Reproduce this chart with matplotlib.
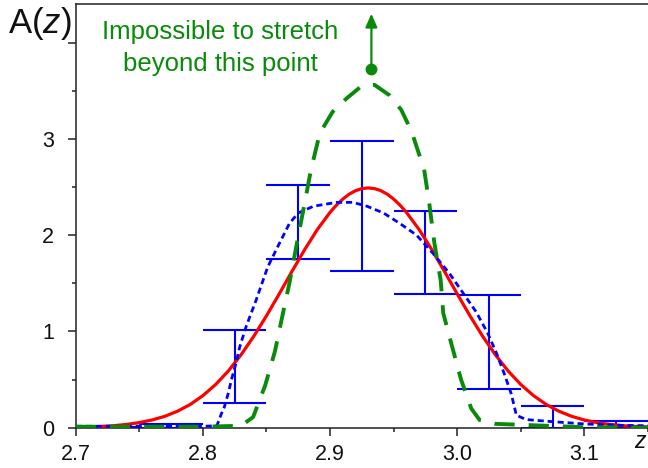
import matplotlib
matplotlib.use("Agg")
import matplotlib.pyplot as plt
from matplotlib.ticker import MultipleLocator, FixedLocator, FixedFormatter

plt.rcParams['font.family'] = ['Liberation Sans', 'DejaVu Sans']
plt.rcParams['mathtext.fontset'] = 'custom'
plt.rcParams['mathtext.rm'] = 'Liberation Sans'
plt.rcParams['mathtext.it'] = 'Liberation Sans:italic'

# ---- data ----
# binned measurements (error bars), bin width 0.05
bin_centers = [2.725, 2.775, 2.825, 2.875, 2.925, 2.975, 3.025, 3.075, 3.125]
bin_low = [0.0, 0.0, 0.26, 1.75, 1.63, 1.385, 0.405, 0.0, 0.0]
bin_high = [0.006, 0.035, 1.015, 2.52, 2.974, 2.25, 1.375, 0.222, 0.073]
bin_width = 0.05

# red smooth curve
red_z = [2.70, 2.71, 2.72, 2.73, 2.74, 2.75, 2.76, 2.77, 2.78, 2.79, 2.80,
         2.81, 2.82, 2.83, 2.84, 2.85, 2.86, 2.87, 2.88, 2.89, 2.90, 2.905,
         2.91, 2.915, 2.92, 2.925, 2.93, 2.935, 2.94, 2.945, 2.95, 2.955,
         2.96, 2.97, 2.98, 2.99, 3.00, 3.01, 3.02, 3.03, 3.04, 3.05, 3.06,
         3.07, 3.08, 3.09, 3.10, 3.11, 3.12, 3.13, 3.14, 3.15]
red_a = [0.005, 0.008, 0.013, 0.021, 0.034, 0.053, 0.080, 0.118, 0.171, 0.241, 0.333,
         0.448, 0.589, 0.757, 0.949, 1.162, 1.389, 1.622, 1.849, 2.058, 2.237, 2.311,
         2.374, 2.425, 2.461, 2.483, 2.490, 2.483, 2.461, 2.425, 2.374, 2.311,
         2.237, 2.058, 1.849, 1.622, 1.389, 1.162, 0.949, 0.757, 0.589, 0.448, 0.333,
         0.241, 0.171, 0.118, 0.080, 0.053, 0.034, 0.021, 0.013, 0.008]

# blue dotted curve
blue_z = [2.70, 2.75, 2.80, 2.811, 2.8147, 2.817, 2.820, 2.8225, 2.826, 2.829,
          2.834, 2.838, 2.842, 2.851, 2.860, 2.868, 2.875, 2.887, 2.905, 2.918,
          2.929, 2.942, 2.955, 2.968, 2.981, 2.994, 3.0045, 3.015, 3.024, 3.031,
          3.037, 3.0425, 3.0465, 3.054, 3.0725, 3.101, 3.128, 3.15]
blue_a = [0.015, 0.015, 0.015, 0.02, 0.15, 0.22, 0.36, 0.50, 0.67, 0.84,
          1.05, 1.19, 1.33, 1.67, 1.91, 2.12, 2.23, 2.30, 2.34, 2.34,
          2.30, 2.23, 2.12, 2.00, 1.81, 1.60, 1.40, 1.20, 0.98, 0.77,
          0.56, 0.35, 0.13, 0.085, 0.065, 0.038, 0.025, 0.02]

# green dashed curve
green_z = [2.70, 2.76, 2.80, 2.83, 2.8395, 2.849, 2.8566, 2.863, 2.868, 2.874,
           2.880, 2.885, 2.892, 2.902, 2.913, 2.925, 2.935, 2.947, 2.956, 2.964,
           2.974, 2.978, 2.982, 2.987, 2.989, 2.995, 3.003, 3.011, 3.0176, 3.03,
           3.05, 3.07, 3.10, 3.15]
green_a = [0.01, 0.01, 0.01, 0.02, 0.11, 0.44, 0.79, 1.19, 1.50, 1.92,
           2.33, 2.68, 3.06, 3.28, 3.42, 3.55, 3.56, 3.45, 3.30, 3.08,
           2.68, 2.33, 1.92, 1.53, 1.19, 0.89, 0.50, 0.20, 0.08, 0.04,
           0.03, 0.02, 0.005, 0.0]

# stretch limit point and arrow
limit_z = [2.9325]
limit_a = [3.725]
arrow_top = 4.30

annot_lines = ["Impossible to stretch", "beyond this point"]

x_ticks = [2.7, 2.8, 2.9, 3.0, 3.1]
x_ticklabels = ["2.7", "2.8", "2.9", "3.0", "3.1"]
y_ticks = [0, 1, 2, 3, 4]
y_ticklabels = ["0", "1", "2", "3", ""]

GREEN = '#0a8a0a'
BLUE = '#0000ff'
RED = '#ff0000'

W, H = 648, 468
fig = plt.figure(figsize=(W / 100, H / 100), dpi=100)
left = 75.7 / W
bottom = (H - 427.7) / H
top = (H - 4) / H
ax = fig.add_axes([left, bottom, 1.0 - left, top - bottom])

# error bars
for c, lo, hi in zip(bin_centers, bin_low, bin_high):
    ax.vlines(c, lo, hi, color=BLUE, lw=1.5, zorder=2)
    ax.hlines([lo, hi], c - bin_width / 2, c + bin_width / 2, color=BLUE, lw=1.5, zorder=2)

ax.plot(red_z, red_a, color=RED, lw=2.3, zorder=3)
ax.plot(blue_z, blue_a, color=BLUE, lw=2.0, dashes=(2.2, 1.4), zorder=4)
ax.plot(green_z, green_a, color=GREEN, lw=2.8, dashes=(5.2, 3.6), zorder=5)

ax.plot(limit_z, limit_a, 'o', color=GREEN, ms=7.5, zorder=6)
ax.annotate('', xy=(limit_z[0], arrow_top), xytext=(limit_z[0], limit_a[0]),
            arrowprops=dict(arrowstyle='-|>,head_length=0.8,head_width=0.35',
                            color=GREEN, lw=1.6, shrinkA=0, shrinkB=0), zorder=6)

ax.set_xlim(2.7, 3.15)
ax.set_ylim(0, 4.40)

ax.xaxis.set_major_locator(FixedLocator(x_ticks))
ax.xaxis.set_major_formatter(FixedFormatter(x_ticklabels))
ax.xaxis.set_minor_locator(MultipleLocator(0.05))
ax.yaxis.set_major_locator(FixedLocator(y_ticks))
ax.yaxis.set_major_formatter(FixedFormatter(y_ticklabels))
ax.yaxis.set_minor_locator(MultipleLocator(0.5))

ax.tick_params(which='major', direction='out', length=5.5, width=1.1, color='#222222',
               labelsize=15.5, labelcolor='#111111')
ax.tick_params(which='minor', direction='out', length=3.2, width=1.1, color='#222222')
ax.tick_params(axis='x', which='major', pad=6.5)
ax.tick_params(axis='y', which='major', pad=10)

for s in ['left', 'bottom', 'top']:
    ax.spines[s].set_linewidth(1.1)
    ax.spines[s].set_color('#222222')
ax.spines['right'].set_visible(False)

fig.text(8 / W, 1 - 24 / H, r'A($z$)', fontsize=25, ha='left', va='center', color='#111111')
fig.text(641 / W, 1 - 442 / H, r'$z$', fontsize=16.5, ha='center', va='center', color='#111111')

fig.text(220 / W, 1 - 32 / H, annot_lines[0], fontsize=18.5, color=GREEN, ha='center', va='center')
fig.text(220 / W, 1 - 64 / H, annot_lines[1], fontsize=18.5, color=GREEN, ha='center', va='center')

fig.savefig('out.png', dpi=100)
